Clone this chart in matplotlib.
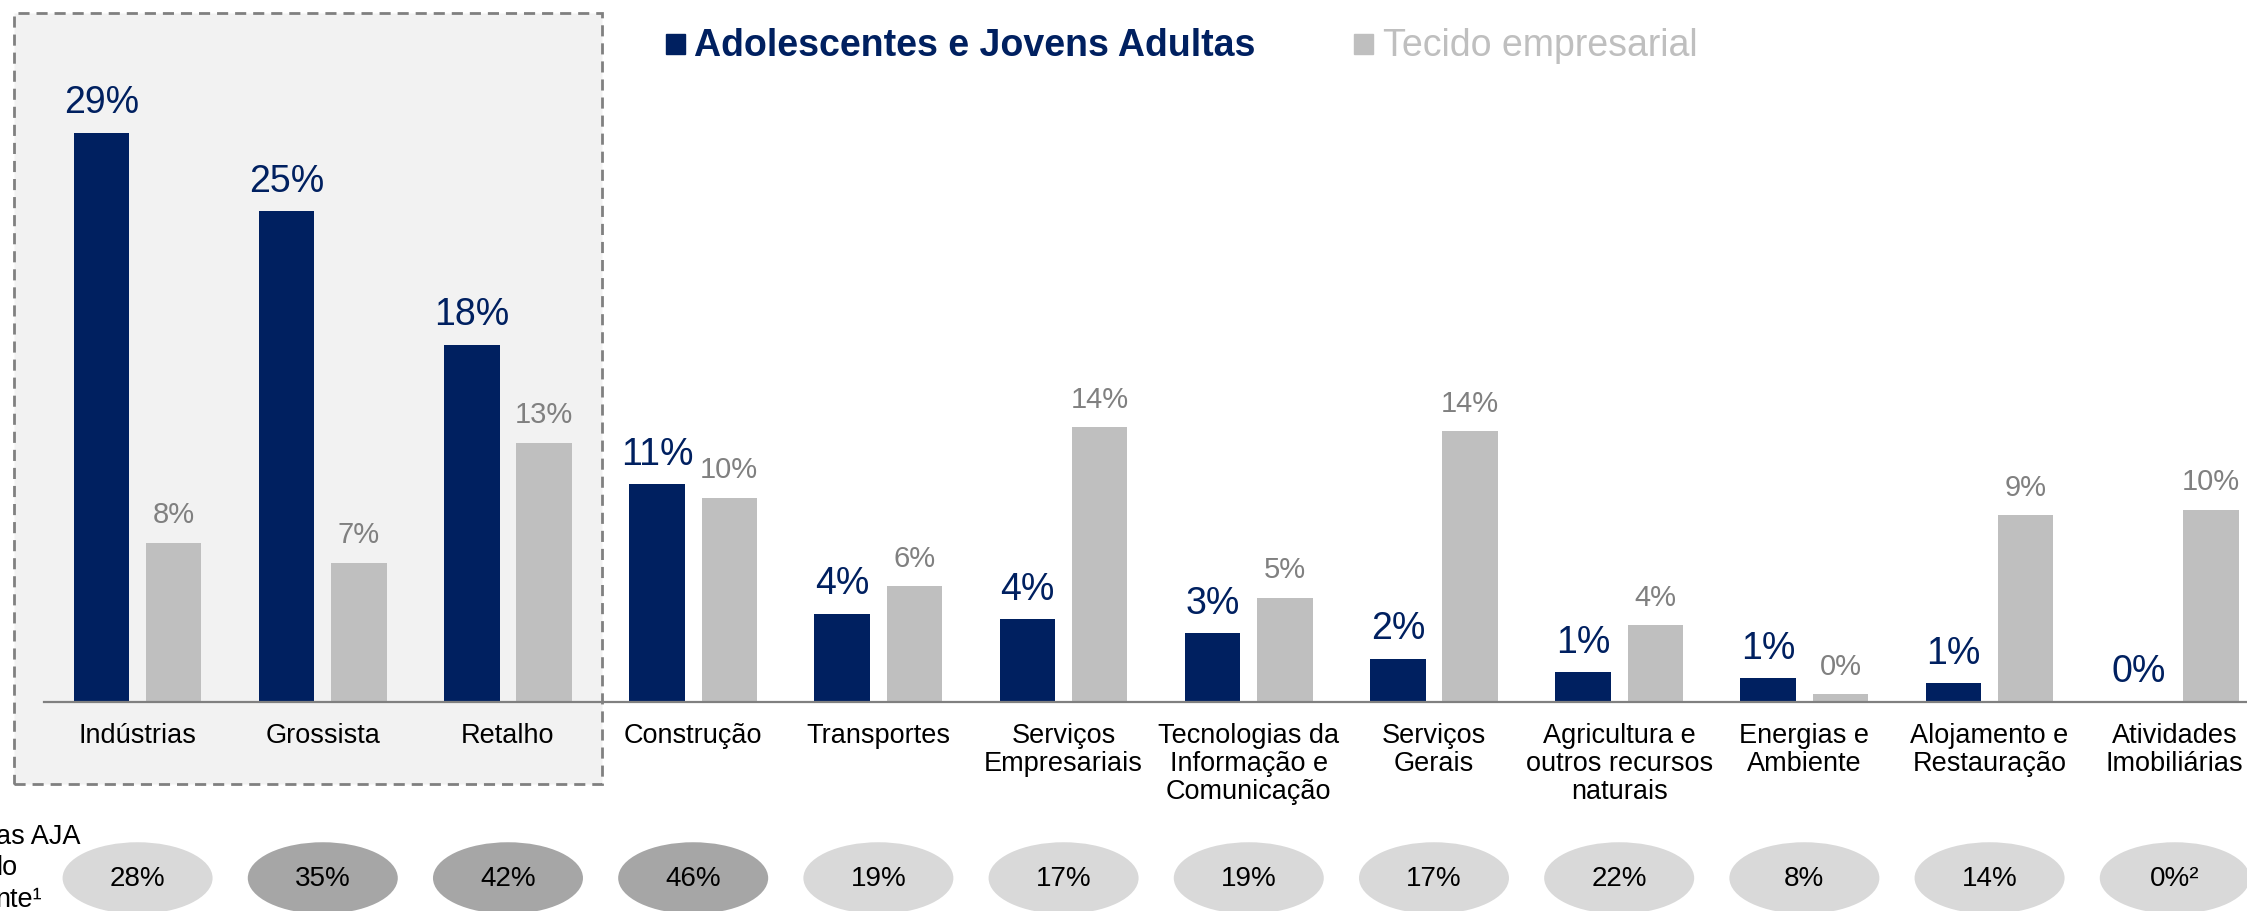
import numpy as np
import matplotlib
matplotlib.use('Agg')
import matplotlib.pyplot as plt
from matplotlib.patches import Rectangle, Ellipse
from matplotlib.transforms import blended_transform_factory

plt.rcParams['font.family'] = ['Liberation Sans', 'DejaVu Sans']

# Data
categories = ['Indústrias', 'Grossista', 'Retalho', 'Construção', 'Transportes',
              'Serviços\nEmpresariais', 'Tecnologias da\nInformação e\nComunicação',
              'Serviços\nGerais', 'Agricultura e\noutros recursos\nnaturais',
              'Energias e\nAmbiente', 'Alojamento e\nRestauração', 'Atividades\nImobiliárias']
aja = [29.0, 25.0, 18.2, 11.1, 4.5, 4.2, 3.5, 2.2, 1.5, 1.2, 0.95, 0.0]
aja_labels = ['29%', '25%', '18%', '11%', '4%', '4%', '3%', '2%', '1%', '1%', '1%', '0%']
tecido = [8.1, 7.1, 13.2, 10.4, 5.9, 14.0, 5.3, 13.8, 3.9, 0.4, 9.5, 9.8]
tecido_labels = ['8%', '7%', '13%', '10%', '6%', '14%', '5%', '14%', '4%', '0%', '9%', '10%']
share = [28, 35, 42, 46, 19, 17, 19, 17, 22, 8, 14, 0]
share_labels = ['28%', '35%', '42%', '46%', '19%', '17%', '19%', '17%', '22%', '8%', '14%', '0%²']
row_label = ['as AJA', 'lo', 'nte¹']

navy = '#002060'
grey_bar = '#BFBFBF'
grey_txt = '#808080'

W, H = 1568, 636  # layout grid (reference preview px)
def fx(x):
    return x / W
def fy(y):
    return 1 - y / H

fig = plt.figure(figsize=(22.47, 9.11), dpi=100)

# Shaded dashed box round the first three sectors
box = Rectangle((fx(10), fy(547)), fx(420) - fx(10), fy(9) - fy(547),
                transform=fig.transFigure, facecolor='#F2F2F2', edgecolor='#808080',
                linestyle=(0, (4, 2.5)), linewidth=2, zorder=-5)
fig.patches.append(box)

ax = fig.add_axes([fx(31), fy(490), 1 - fx(31), fy(9) - fy(490)])
ax.set_facecolor('none')
ax.set_zorder(2)
x = np.arange(len(categories))
ax.bar(x - 0.195, aja, width=0.30, color=navy, zorder=2)
ax.bar(x + 0.195, tecido, width=0.30, color=grey_bar, zorder=2)
ax.set_xlim(-0.503, 11.39)
ax.set_ylim(0, 35.1)

for s in ['top', 'right', 'left']:
    ax.spines[s].set_visible(False)
ax.spines['bottom'].set_color('#808080')
ax.spines['bottom'].set_linewidth(1.6)
ax.set_xticks([])
ax.set_yticks([])

for i in range(len(categories)):
    ax.annotate(aja_labels[i], (x[i] - 0.195, aja[i]), xytext=(0, 14),
                textcoords='offset points', ha='center', va='baseline',
                fontsize=27, color=navy)
    ax.annotate(tecido_labels[i], (x[i] + 0.195, tecido[i]), xytext=(0, 14),
                textcoords='offset points', ha='center', va='baseline',
                fontsize=21, color=grey_txt)
    ax.annotate(categories[i], (x[i], 0), xytext=(0, -15),
                textcoords='offset points', ha='center', va='top',
                fontsize=19.5, color='black', linespacing=1.1)

# Bottom row of ellipses
trans = blended_transform_factory(ax.transData, fig.transFigure)
for i in range(len(categories)):
    fc = '#A6A6A6' if share[i] >= 30 else '#D9D9D9'
    e = Ellipse((x[i], fy(613)), 0.81, 50 / H, transform=trans,
                facecolor=fc, edgecolor='none', clip_on=False)
    fig.patches.append(e)
    fig.text(x[i], fy(614), share_labels[i], transform=trans, ha='center',
             va='center', fontsize=20, color='black')

for k, t in enumerate(row_label):
    fig.text(fx(-3), fy(584 + 22 * k), t, ha='left', va='center', fontsize=19.5)

# Legend
fig.patches.append(Rectangle((fx(465), fy(38)), fx(13), 14 / H,
                             transform=fig.transFigure, color=navy))
fig.text(fx(484), fy(32), 'Adolescentes e Jovens Adultas', ha='left', va='center',
         fontsize=27, fontweight='bold', color=navy)
fig.patches.append(Rectangle((fx(945), fy(38)), fx(13), 14 / H,
                             transform=fig.transFigure, color=grey_bar))
fig.text(fx(965), fy(32), 'Tecido empresarial', ha='left', va='center',
         fontsize=27, color=grey_bar)

plt.savefig('out.png', dpi=100)
